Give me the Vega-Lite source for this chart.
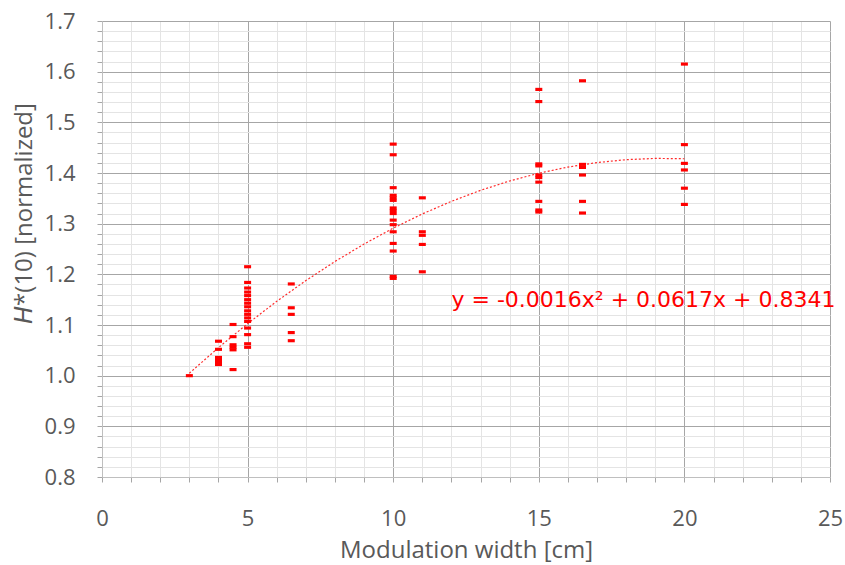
{
  "$schema": "https://vega.github.io/schema/vega-lite/v6.json",
  "width": 728,
  "height": 456,
  "autosize": "none",
  "padding": {"left": 102, "top": 21, "right": 15, "bottom": 88},
  "background": "white",
  "config": {"view": {"stroke": null}, "font": "Open Sans"},
  "datasets": {
    "pts": [
      {"x": 3, "y": 1.0},
      {"x": 4, "y": 1.068}, {"x": 4, "y": 1.052}, {"x": 4, "y": 1.036}, {"x": 4, "y": 1.031}, {"x": 4, "y": 1.026}, {"x": 4, "y": 1.022},
      {"x": 4.5, "y": 1.101}, {"x": 4.5, "y": 1.077}, {"x": 4.5, "y": 1.061}, {"x": 4.5, "y": 1.056}, {"x": 4.5, "y": 1.051}, {"x": 4.5, "y": 1.012},
      {"x": 5, "y": 1.215}, {"x": 5, "y": 1.184}, {"x": 5, "y": 1.173}, {"x": 5, "y": 1.165}, {"x": 5, "y": 1.158}, {"x": 5, "y": 1.15}, {"x": 5, "y": 1.143}, {"x": 5, "y": 1.136}, {"x": 5, "y": 1.128}, {"x": 5, "y": 1.121}, {"x": 5, "y": 1.114}, {"x": 5, "y": 1.107}, {"x": 5, "y": 1.094}, {"x": 5, "y": 1.081}, {"x": 5, "y": 1.063}, {"x": 5, "y": 1.056},
      {"x": 6.5, "y": 1.181}, {"x": 6.5, "y": 1.134}, {"x": 6.5, "y": 1.121}, {"x": 6.5, "y": 1.085}, {"x": 6.5, "y": 1.069},
      {"x": 10, "y": 1.457}, {"x": 10, "y": 1.436}, {"x": 10, "y": 1.371}, {"x": 10, "y": 1.356}, {"x": 10, "y": 1.351}, {"x": 10, "y": 1.346}, {"x": 10, "y": 1.331}, {"x": 10, "y": 1.326}, {"x": 10, "y": 1.32}, {"x": 10, "y": 1.307}, {"x": 10, "y": 1.298}, {"x": 10, "y": 1.284}, {"x": 10, "y": 1.261}, {"x": 10, "y": 1.246}, {"x": 10, "y": 1.196}, {"x": 10, "y": 1.192},
      {"x": 11, "y": 1.351}, {"x": 11, "y": 1.284}, {"x": 11, "y": 1.277}, {"x": 11, "y": 1.259}, {"x": 11, "y": 1.205},
      {"x": 15, "y": 1.565}, {"x": 15, "y": 1.541}, {"x": 15, "y": 1.418}, {"x": 15, "y": 1.414}, {"x": 15, "y": 1.396}, {"x": 15, "y": 1.391}, {"x": 15, "y": 1.382}, {"x": 15, "y": 1.344}, {"x": 15, "y": 1.327}, {"x": 15, "y": 1.323},
      {"x": 16.5, "y": 1.582}, {"x": 16.5, "y": 1.417}, {"x": 16.5, "y": 1.411}, {"x": 16.5, "y": 1.396}, {"x": 16.5, "y": 1.344}, {"x": 16.5, "y": 1.321},
      {"x": 20, "y": 1.615}, {"x": 20, "y": 1.456}, {"x": 20, "y": 1.419}, {"x": 20, "y": 1.406}, {"x": 20, "y": 1.37}, {"x": 20, "y": 1.338}
    ],
    "trend": [
      {"x": 3, "y": 1.0048}, {"x": 4, "y": 1.0553}, {"x": 5, "y": 1.1026}, {"x": 6, "y": 1.1467}, {"x": 7, "y": 1.1876}, {"x": 8, "y": 1.2253}, {"x": 9, "y": 1.2598}, {"x": 10, "y": 1.2911}, {"x": 11, "y": 1.3192}, {"x": 12, "y": 1.3441}, {"x": 13, "y": 1.3658}, {"x": 14, "y": 1.3843}, {"x": 15, "y": 1.3996}, {"x": 16, "y": 1.4117}, {"x": 17, "y": 1.4206}, {"x": 18, "y": 1.4263}, {"x": 19, "y": 1.4288}, {"x": 20, "y": 1.4281}
    ],
    "eq": [
      {"x": 12, "y": 1.149, "t": "y = -0.0016x² + 0.0617x + 0.8341"}
    ]
  },
  "encoding": {
    "x": {
      "field": "x", "type": "quantitative",
      "scale": {"domain": [0, 25], "nice": false, "zero": false},
      "axis": {
        "values": [0,1,2,3,4,5,6,7,8,9,10,11,12,13,14,15,16,17,18,19,20,21,22,23,24,25],
        "grid": true,
        "gridColor": {"condition": {"test": "datum.value % 5 === 0", "value": "#a6a6a6"}, "value": "#e4e4e4"},
        "labelExpr": "datum.value % 5 === 0 ? datum.label : ''",
        "labelOverlap": false, "labelFlush": false,
        "labelFontSize": 22, "labelColor": "#595959", "labelPadding": 26,
        "tickSize": 5, "tickColor": "#a6a6a6", "domainColor": "#bfbfbf",
        "title": "Modulation width [cm]", "titleFontSize": 24, "titleFontWeight": "normal", "titleColor": "#595959", "titlePadding": 9
      }
    },
    "y": {
      "field": "y", "type": "quantitative",
      "scale": {"domain": [0.8, 1.7], "nice": false, "zero": false},
      "axis": {
        "values": [0.8,0.82,0.84,0.86,0.88,0.9,0.92,0.94,0.96,0.98,1.0,1.02,1.04,1.06,1.08,1.1,1.12,1.14,1.16,1.18,1.2,1.22,1.24,1.26,1.28,1.3,1.32,1.34,1.36,1.38,1.4,1.42,1.44,1.46,1.48,1.5,1.52,1.54,1.56,1.58,1.6,1.62,1.64,1.66,1.68,1.7],
        "grid": true,
        "gridColor": {"condition": {"test": "abs(datum.value*10 - round(datum.value*10)) < 0.001", "value": "#a6a6a6"}, "value": "#e4e4e4"},
        "labelExpr": "abs(datum.value*10 - round(datum.value*10)) < 0.001 ? format(datum.value, '.1f') : ''",
        "labelOverlap": false, "labelFlush": false,
        "labelFontSize": 22, "labelColor": "#595959", "labelPadding": 22,
        "tickSize": 5, "tickColor": "#a6a6a6", "domainColor": "#bfbfbf",
        "title": "𝘏*(10) [normalized]", "titleFontSize": 24, "titleFontWeight": "normal", "titleColor": "#595959", "titlePadding": 8, "titleY": 192
      }
    }
  },
  "layer": [
    {
      "data": {"name": "trend"},
      "mark": {"type": "line", "color": "#ff2a2a", "strokeWidth": 1.2, "strokeDash": [2, 2]}
    },
    {
      "data": {"name": "pts"},
      "mark": {"type": "point", "shape": "M-1,-0.45H1V0.45H-1Z", "filled": true, "size": 49, "color": "#ff0000", "opacity": 1}
    },
    {
      "data": {"name": "eq"},
      "mark": {"type": "text", "align": "left", "baseline": "middle", "fontSize": 22, "font": "DejaVu Sans", "color": "#ff0000"},
      "encoding": {"text": {"field": "t"}}
    }
  ]
}
